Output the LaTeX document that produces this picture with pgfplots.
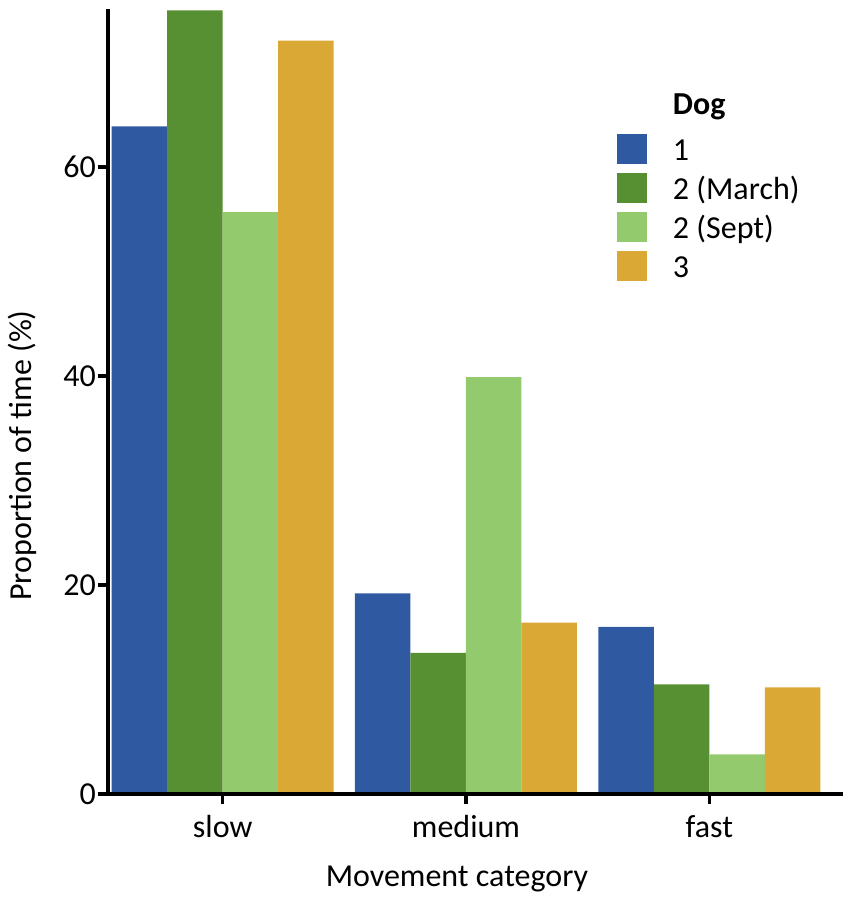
\documentclass[border=0pt]{standalone}
\usepackage{fontspec}
\setmainfont{Carlito}
\usepackage{pgfplots}
\pgfplotsset{compat=1.18}
\definecolor{cblue}{HTML}{2F59A1}
\definecolor{cdgreen}{HTML}{578F33}
\definecolor{clgreen}{HTML}{93CA6E}
\definecolor{corange}{HTML}{DAA834}
\begin{document}
\fontsize{16}{19}\selectfont
\begin{tikzpicture}
\begin{axis}[
  name=ax,
  scale only axis,
  width=367.5pt, height=392.35pt,
  ybar=0pt, bar width=27.75pt,
  xmin=-0.4714, xmax=2.5495,
  ymin=0, ymax=75.1,
  axis x line=bottom, axis y line=left,
  axis line style={-, line width=1.7pt},
  axis on top,
  tick align=outside,
  major tick length=5pt,
  every tick/.style={black, line width=1.7pt},
  xtick={0,1,2}, xticklabels={slow,medium,fast},
  ytick={0,20,40,60},
  /pgf/number format/assume math mode=true,
  ticklabel style={font=\fontsize{16}{19}\selectfont},
  yticklabel style={xshift=4.5pt},
  xlabel={Movement category},
  ylabel={Proportion of time (\%)},
  label style={font=\fontsize{16}{19}\selectfont},
  xlabel style={at={(rel axis cs:0.4747,-0.1185)}, anchor=base},
  ylabel style={at={(rel axis cs:-0.1038,0.4314)}, anchor=base, rotate=0},
  legend cell align=left,
  legend style={draw=none, fill=none, inner sep=0pt, outer sep=0pt,
    at={(rel axis cs:0.6925,0.8959)}, anchor=north west,
    font=\fontsize{16}{19}\selectfont,
    row sep=2pt, column sep=0pt,
    nodes={inner sep=0pt, text height=12pt, text depth=4pt}},
  legend image code/.code={\fill[#1] (0pt,-5.5pt) rectangle (15pt,9.5pt); \path (28pt,0pt);},
]
\addlegendimage{empty legend}
\addlegendentry[text depth=7.3pt]{\textbf{Dog}}
\addplot[fill=cblue, draw=none] coordinates {(0,63.9) (1,19.2) (2,16.0)};
\addlegendentry{1}
\addplot[fill=cdgreen, draw=none] coordinates {(0,75.0) (1,13.5) (2,10.5)};
\addlegendentry{2 (March)}
\addplot[fill=clgreen, draw=none] coordinates {(0,55.7) (1,39.9) (2,3.8)};
\addlegendentry{2 (Sept)}
\addplot[fill=corange, draw=none] coordinates {(0,72.1) (1,16.4) (2,10.2)};
\addlegendentry{3}
\end{axis}
\pgfresetboundingbox
\path (ax.south west) ++(-54pt,-54pt) rectangle ++(425.5pt,451pt);
\end{tikzpicture}
\end{document}
